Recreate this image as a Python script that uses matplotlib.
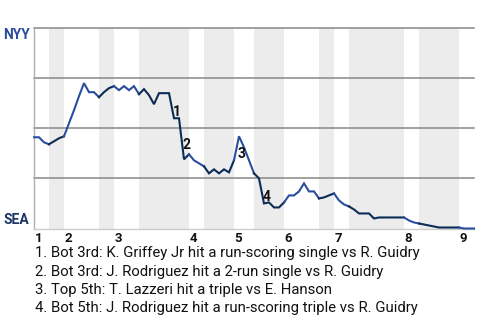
import matplotlib
matplotlib.use("Agg")
import matplotlib.pyplot as plt
import numpy as np

plt.rcParams['font.family'] = ['Roboto', 'DejaVu Sans']

# NYY win probability (%) after each plate appearance
nyy_wp = [45.5, 45.5, 43, 42, 43.5, 45, 46,
          52.5, 59, 66, 72.5, 68, 68, 65.5,
          68, 70, 71,
          69, 71, 69, 71, 67,
          69.5, 66.5, 62, 67.5, 67.5, 67.5, 55, 55, 34.5, 37,
          34, 32.5, 31,
          27.5, 29.5, 27.5, 29.5, 28, 34,
          46, 40.5, 34, 27.5,
          25, 12.5, 13, 10.5, 10.5, 13,
          16.5, 16.5, 18.5, 22.5, 18.5, 18.5, 15,
          15.5, 16.5, 17.5,
          14, 12, 11,
          9.5, 7.5, 7.5, 7.5, 5, 5.5, 5.5, 5.5, 5.5, 5.5, 5.5,
          4, 3, 2.5,
          2, 1.5, 1, 0.5, 0.5, 0.5, 0.5, 0.5,
          0, 0, 0]

# plate appearances in each half inning (top 1, bot 1, top 2, ...)
half_pa = [3, 3, 7, 3, 5, 10, 3, 6, 4, 6, 7, 3, 3, 11, 3, 8, 3]
innings = ['1', '2', '3', '4', '5', '6', '7', '8', '9']

# key plays: index of the plate appearance where the swing ends
event_pa = [28, 30, 41, 46]
event_text = [
    "1. Bot 3rd: K. Griffey Jr hit a run-scoring single vs R. Guidry",
    "2. Bot 3rd: J. Rodriguez hit a 2-run single vs R. Guidry",
    "3. Top 5th: T. Lazzeri hit a triple vs E. Hanson",
    "4. Bot 5th: J. Rodriguez hit a run-scoring triple vs R. Guidry",
]

away_col = '#2a4e9e'
home_col = '#0c2c56'

wp = np.array(nyy_wp)
x = np.arange(len(wp))
bounds = np.concatenate([[0], np.cumsum(half_pa)])

fig = plt.figure(figsize=(4.8, 3.2), dpi=100)
ax = fig.add_axes([34 / 480, 1 - 228.5 / 320, 440 / 480, 200.5 / 320])

for k in range(len(half_pa)):
    a, b = bounds[k], bounds[k + 1]
    if k % 2 == 1:
        ax.axvspan(a, b, color='#ececec', lw=0, zorder=0)
    ax.plot(x[a:b + 1], wp[a:b + 1], color=away_col if k % 2 == 0 else home_col,
            lw=1.5, zorder=3, clip_on=False, solid_joinstyle='miter')

for g in [25, 50, 75, 100]:
    ax.axhline(g, color='#888888', lw=1.1, zorder=1, clip_on=False)

ax.set_xlim(0, bounds[-1])
ax.set_ylim(0, 100)
ax.set_xticks([])
ax.set_yticks([])
for s in ['top', 'right']:
    ax.spines[s].set_visible(False)
ax.spines['left'].set_color('#b0b0b0')
ax.spines['bottom'].set_color('#cccccc')
ax.spines['left'].set_linewidth(1)
ax.spines['bottom'].set_linewidth(1)

ax.text(-0.8, 96.5, 'NYY', ha='right', va='center', fontsize=10,
        fontweight='bold', color='#2b4c9b')
ax.text(-0.9, 4, 'SEA', ha='right', va='center', fontsize=10,
        fontweight='bold', color='#1a3566')

for n, lab in enumerate(innings):
    ax.text(bounds[2 * n] + 0.15, -4.8, lab, ha='left', va='center',
            fontsize=9.5, fontweight='bold', color='#111111')

for n, e in enumerate(event_pa):
    xm = (x[e - 1] + x[e]) / 2
    ym = (wp[e - 1] + wp[e]) / 2
    ax.annotate(str(n + 1), (xm, ym), xytext=(5, -6), textcoords='offset pixels',
                ha='center', va='center', fontsize=10, fontweight='bold',
                color='#111111', zorder=5)

for n, t in enumerate(event_text):
    fig.text(35 / 480, 1 - (253.5 + 18.3 * n) / 320, t, ha='left', va='center',
             fontsize=10.7, color='#111111')

fig.savefig('out.png', dpi=100)
